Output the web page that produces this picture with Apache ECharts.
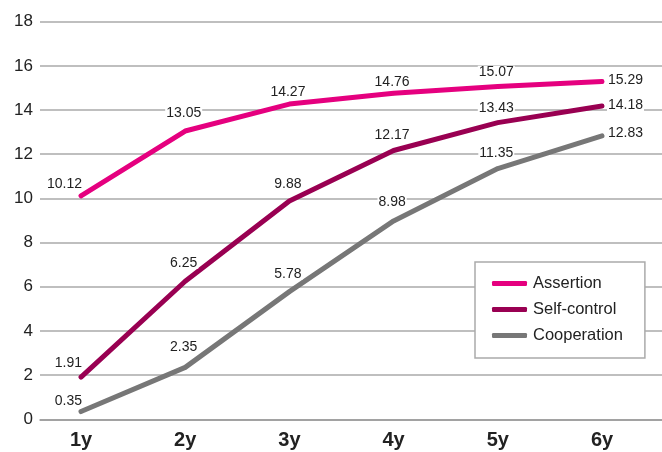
<!DOCTYPE html>
<html>
<head>
<meta charset="utf-8">
<script src="https://cdn.jsdelivr.net/npm/echarts@6/dist/echarts.min.js"></script>
<style>
html,body{margin:0;padding:0;background:#fff;}
#chart{width:662px;height:452px;}
</style>
</head>
<body>
<div id="chart"></div>
<script>
// Scores by age
const categories = ['1y', '2y', '3y', '4y', '5y', '6y'];
const assertion = [10.12, 13.05, 14.27, 14.76, 15.07, 15.29];
const selfControl = [1.91, 6.25, 9.88, 12.17, 13.43, 14.18];
const cooperation = [0.35, 2.35, 5.78, 8.98, 11.35, 12.83];
const yTicks = { min: 0, max: 18, interval: 2 };

const FONT = "'Liberation Sans', Arial, sans-serif";
const TOP = 21.7, BOTTOM = 32.7;

// How far (px) each value label sits above its point, so labels clear the lines
const assertionLift = [11.7, 17.7, 12.4, 11.5, 14.7, 1.5];
const selfControlLift = [13.8, 18.5, 17, 15.5, 14.3, 1];
const cooperationLift = [10.9, 20.7, 17.6, 18.6, 15.9, 2.5];

function labelled(values, lift) {
  const last = values.length - 1;
  return values.map((v, i) => {
    const item = { value: v };
    if (i === 0) {
      item.label = { position: 'left', distance: 0, offset: [4, -lift[i]] };
    } else if (i === last) {
      item.label = { position: 'right', distance: 3, offset: [0, -lift[i]] };
    } else {
      item.label = { position: 'top', distance: 0, offset: [-1.5, -(lift[i] - 8)] };
    }
    return item;
  });
}

function lineSeries(name, values, color, lift) {
  return {
    name,
    type: 'line',
    xAxisIndex: 1,
    yAxisIndex: 1,
    data: labelled(values, lift),
    symbol: 'circle',
    symbolSize: 4,
    showSymbol: true,
    lineStyle: { width: 5, color, cap: 'round', join: 'round' },
    itemStyle: { color },
    label: {
      show: true,
      color: '#222',
      fontSize: 14,
      lineHeight: 12,
      fontFamily: FONT,
      backgroundColor: '#fff',
      padding: [0, 1]
    },
    emphasis: { disabled: true }
  };
}

const chart = echarts.init(document.getElementById('chart'), null, { renderer: 'canvas' });
chart.setOption({
  animation: false,
  backgroundColor: '#fff',
  grid: [
    { left: 40, right: 0, top: TOP, bottom: BOTTOM },
    { left: 81, right: 60, top: TOP, bottom: BOTTOM }
  ],
  xAxis: [
    { gridIndex: 0, type: 'value', min: 0, max: 1, show: true,
      axisLine: { show: true, onZero: false, lineStyle: { color: '#999', width: 1.5 } },
      axisTick: { show: false }, axisLabel: { show: false }, splitLine: { show: false } },
    { gridIndex: 1, type: 'category', data: categories, boundaryGap: false,
      axisLine: { show: false }, axisTick: { show: false }, splitLine: { show: false },
      axisLabel: { color: '#222', fontSize: 20, fontWeight: 'bold', fontFamily: FONT, margin: 11 } }
  ],
  yAxis: [
    { gridIndex: 0, type: 'value', min: yTicks.min, max: yTicks.max, interval: yTicks.interval,
      axisLine: { show: false }, axisTick: { show: false },
      axisLabel: { color: '#222', fontSize: 17, fontFamily: FONT, margin: 7 },
      splitLine: { lineStyle: { color: '#aaa', width: 1.5 } } },
    { gridIndex: 1, type: 'value', min: yTicks.min, max: yTicks.max, interval: yTicks.interval, show: false }
  ],
  legend: {
    orient: 'vertical',
    left: 475,
    top: 262,
    padding: [13, 22, 14, 17],
    backgroundColor: '#fff',
    borderColor: '#aaa',
    borderWidth: 1.5,
    itemWidth: 35,
    itemHeight: 5,
    itemGap: 9,
    icon: 'roundRect',
    textStyle: { color: '#222', fontSize: 16.5, fontFamily: FONT, padding: [0, 0, 0, 1] },
    data: ['Assertion', 'Self-control', 'Cooperation']
  },
  series: [
    lineSeries('Assertion', assertion, '#e5007f', assertionLift),
    lineSeries('Self-control', selfControl, '#990052', selfControlLift),
    lineSeries('Cooperation', cooperation, '#777777', cooperationLift)
  ]
});
</script>
</body>
</html>
